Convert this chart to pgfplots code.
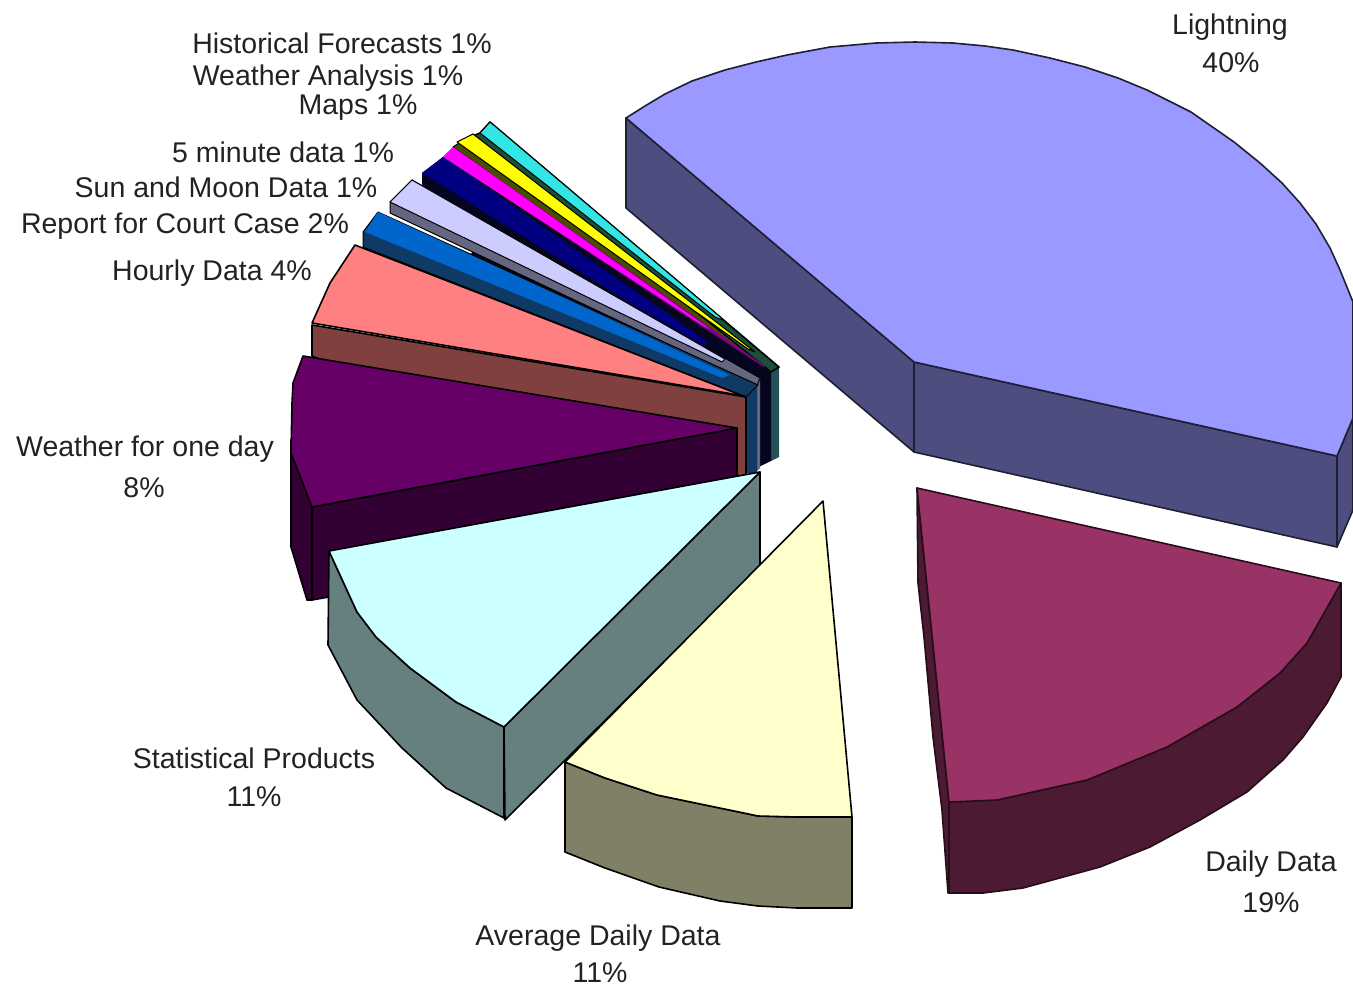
\documentclass[border=0pt]{standalone}
\usepackage{fontspec}
\setmainfont{Liberation Sans}
\usepackage{pgfplots}
\pgfplotsset{compat=1.18}

\definecolor{ltTop}{HTML}{9999FF}
\definecolor{ltSide}{HTML}{4D4D80}
\definecolor{ddTop}{HTML}{993366}
\definecolor{ddSide}{HTML}{4D1A33}
\definecolor{adTop}{HTML}{FFFFCC}
\definecolor{adSide}{HTML}{808066}
\definecolor{spTop}{HTML}{CCFFFF}
\definecolor{spSide}{HTML}{668080}
\definecolor{woTop}{HTML}{660066}
\definecolor{woSide}{HTML}{330033}
\definecolor{hdTop}{HTML}{FF8080}
\definecolor{hdSide}{HTML}{804040}
\definecolor{rcTop}{HTML}{0066CC}
\definecolor{rcSide}{HTML}{0F3A66}
\definecolor{smTop}{HTML}{CCCCFF}
\definecolor{smSide}{HTML}{666680}
\definecolor{fmTop}{HTML}{000080}
\definecolor{fmSide}{HTML}{05051F}
\definecolor{mpTop}{HTML}{FF00FF}
\definecolor{waTop}{HTML}{FFFF00}
\definecolor{hfTop}{HTML}{33E6E6}
\definecolor{hfSide}{HTML}{1A4F3A}
\definecolor{hfEnd}{HTML}{24505A}
\definecolor{txt}{HTML}{222222}

\tikzset{
  face/.style={draw=black,line width=1.6pt,line join=round},
  lbl/.style={anchor=base,text=txt,font=\fontsize{28.5}{30}\selectfont},
}

\begin{document}
\begin{tikzpicture}
\begin{axis}[
    scale only axis,
    width=1353pt,
    height=986pt,
    xmin=0, xmax=1353,
    ymin=0, ymax=986,
    y dir=reverse,
    ticks=none,
    axis line style={draw=none},
]
% Lightning 40%
\addplot[face,draw=black!60!ltSide,fill=ltSide] coordinates {(626,118) (914,362) (914,452) (626,208)} -- cycle;
\addplot[face,draw=black!60!ltSide,fill=ltSide] coordinates {(914,362) (1337,456) (1337,547) (914,452)} -- cycle;
\addplot[face,draw=black!60!ltSide,fill=ltSide] coordinates {(1337,456) (1353,418) (1353,510) (1337,547)} -- cycle;
\addplot[face,draw=black!60!ltSide,fill=ltTop] coordinates {(626,118) (645,106) (665,94) (692,81) (725,70) (756,62) (787,55) (830,47) (876,43) (915,42) (953,43) (985,46) (1013,50) (1050,58) (1085,67) (1118,78) (1147,90) (1191,112) (1234,142) (1260,163) (1282,183) (1300,203) (1316,224) (1330,248) (1340,270) (1353,302) (1353,418) (1337,456) (914,362)} -- cycle;

% thin slices, back to front
\addplot[draw=none,fill=fmSide] coordinates {(450,281) (540,164) (779,367) (771,461) (746,473) (746,397)} -- cycle;
\addplot[draw=none,fill=hfEnd] coordinates {(771,372) (779,367) (779,457) (771,461)} -- cycle;
\addplot[face,fill=hfSide] coordinates {(480,133) (490,122) (779,367) (771,372) (473,136)} -- cycle;
\addplot[face,line width=1pt,fill=hfTop] coordinates {(490,122) (480,133) (715,317) (725,321)} -- cycle;

\addplot[face,line width=1pt,fill=black!70!waTop] coordinates {(453,147) (473,134) (771,372) (765,372)} -- cycle;
\addplot[face,line width=1pt,fill=waTop] coordinates {(473,134) (457,142) (748,349) (755,352)} -- cycle;

\addplot[draw=none,fill=mpTop!50!black] coordinates {(443,157) (453,147) (765,366) (762,368)} -- cycle;
\addplot[draw=none,fill=mpTop] coordinates {(453,147) (443,157) (705,327) (710,329)} -- cycle;

\addplot[draw=none,fill=fmSide] coordinates {(760,378) (771,372) (771,460) (760,466)} -- cycle;
\addplot[draw=none,fill=fmSide] coordinates {(422,173) (443,157) (771,372) (760,380) (422,186)} -- cycle;
\addplot[draw=none,fill=fmTop] coordinates {(443,157) (422,173) (700,347) (708,342)} -- cycle;

\addplot[draw=none,fill=smSide] coordinates {(757,383) (760,378) (760,468) (757,471)} -- cycle;
\addplot[face,line width=1pt,fill=smSide] coordinates {(390,202) (412,180) (760,378) (757,386) (390,213)} -- cycle;
\addplot[face,line width=1pt,fill=smTop] coordinates {(412,180) (390,202) (722,362) (725,359)} -- cycle;

\addplot[draw=none,fill=rcSide] coordinates {(746,395) (757,385) (757,473) (746,473)} -- cycle;
\addplot[face,line width=1pt,fill=rcSide] coordinates {(363,232) (378,212) (758,385) (746,397) (363,247)} -- cycle;
\addplot[draw=none,fill=rcTop] coordinates {(378,212) (365,232) (722,378) (730,375)} -- cycle;

% Hourly Data 4%
\addplot[face,fill=hdSide] coordinates {(312,325) (746,397) (746,476) (600,476) (312,356)} -- cycle;
\addplot[face,fill=hdTop] coordinates {(355,245) (330,283) (312,323) (727,393) (746,397)} -- cycle;

% Weather for one day 8%
\addplot[face,fill=woSide] coordinates {(291,440) (312,507) (312,600) (307,600) (291,547)} -- cycle;
\addplot[face,fill=woSide] coordinates {(312,507) (737,428) (737,480) (340,560) (329,597) (312,600)} -- cycle;
\addplot[face,fill=woTop] coordinates {(303,356) (293,383) (292,403) (291,453) (312,507) (737,428)} -- cycle;

% Statistical Products 11%
\addplot[face,fill=spSide] coordinates {(329,551) (357,612) (376,637) (410,668) (456,702) (504,727) (504,818) (446,788) (402,748) (357,700) (328,645)} -- cycle;
\addplot[face,fill=spSide] coordinates {(504,727) (760,472) (760,566) (505,820)} -- cycle;
\addplot[face,fill=spTop] coordinates {(329,551) (357,612) (376,637) (410,668) (456,702) (504,727) (760,472)} -- cycle;

% Average Daily Data 11%
\addplot[face,fill=adSide] coordinates {(565,762) (605,778) (657,795) (739,812) (758,816) (797,817) (852,817) (852,908) (797,908) (758,906) (720,901) (659,887) (605,868) (565,852)} -- cycle;
\addplot[face,fill=adTop] coordinates {(823,501) (565,762) (605,778) (657,795) (739,812) (758,816) (797,817) (852,817)} -- cycle;

% Daily Data 19%
\addplot[face,draw=black!50!ddSide,fill=ddSide] coordinates {(917,488) (949,802) (949,893) (948,893) (942,810) (933,737) (924,637) (918,583)} -- cycle;
\addplot[face,draw=black!50!ddSide,fill=ddSide] coordinates {(949,802) (997,800) (1087,780) (1167,747) (1237,707) (1280,673) (1307,643) (1341,583) (1341,677) (1327,703) (1303,737) (1283,760) (1247,792) (1200,820) (1150,847) (1100,867) (1023,888) (983,893) (949,893)} -- cycle;
\addplot[face,draw=black!50!ddSide,fill=ddTop] coordinates {(917,488) (1341,583) (1307,643) (1280,673) (1237,707) (1167,747) (1087,780) (997,800) (949,802)} -- cycle;

% labels
\node[lbl] at (axis cs:1230,34) {Lightning};
\node[lbl] at (axis cs:1231,72) {40\%};
\node[lbl] at (axis cs:1271,871) {Daily Data};
\node[lbl] at (axis cs:1271,912) {19\%};
\node[lbl] at (axis cs:598,945) {Average Daily Data};
\node[lbl] at (axis cs:600,982) {11\%};
\node[lbl] at (axis cs:254,768) {Statistical Products};
\node[lbl] at (axis cs:254,806) {11\%};
\node[lbl] at (axis cs:145,456) {Weather for one day};
\node[lbl] at (axis cs:144,497) {8\%};
\node[lbl] at (axis cs:212,280) {Hourly Data 4\%};
\node[lbl] at (axis cs:185,233) {Report for Court Case 2\%};
\node[lbl] at (axis cs:226,197) {Sun and Moon Data 1\%};
\node[lbl] at (axis cs:283,162) {5 minute data 1\%};
\node[lbl] at (axis cs:358,114) {Maps 1\%};
\node[lbl] at (axis cs:328,85) {Weather Analysis 1\%};
\node[lbl] at (axis cs:342,53) {Historical Forecasts 1\%};
\end{axis}
\end{tikzpicture}
\end{document}
